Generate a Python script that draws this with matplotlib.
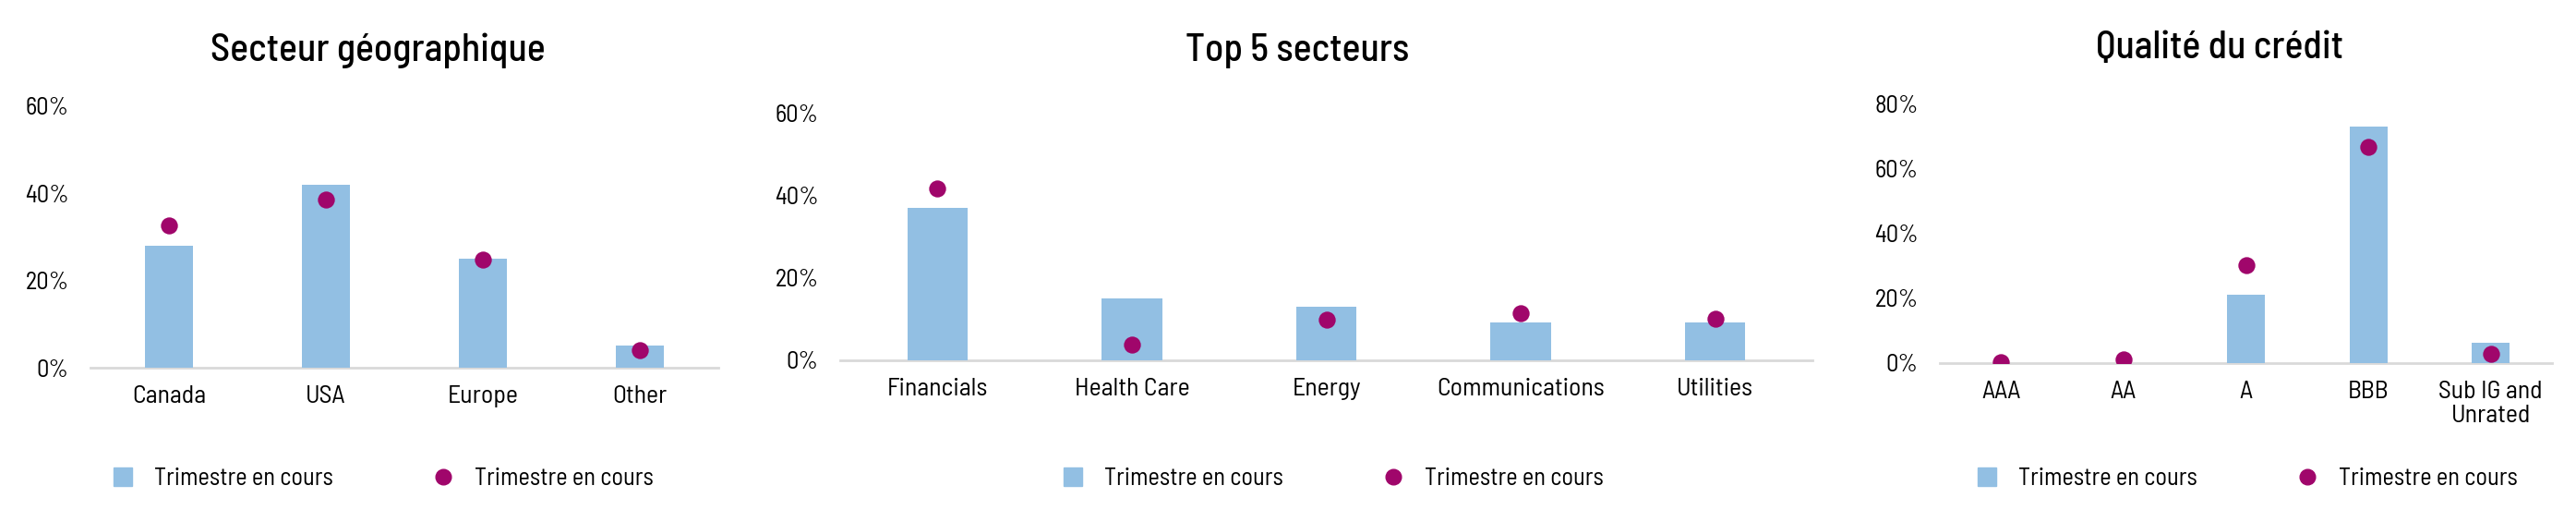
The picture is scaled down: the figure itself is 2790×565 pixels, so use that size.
import matplotlib
matplotlib.use("Agg")
import matplotlib.pyplot as plt
from matplotlib.lines import Line2D
from matplotlib.ticker import PercentFormatter

plt.rcParams['font.family'] = ['Barlow Semi Condensed', 'DejaVu Sans']

BAR_COLOR = "#92BFE3"
DOT_COLOR = "#A0066B"
AXIS_COLOR = "#D9D9D9"
LEGEND_LABEL = "Trimestre en cours"

# Secteur géographique
geo_titles = "Secteur géographique"
geo_cats = ["Canada", "USA", "Europe", "Other"]
geo_bars = [28, 42, 25, 5]
geo_dots = [32.6, 38.5, 24.8, 4.0]
geo_yticks = [0, 20, 40, 60]

# Top 5 secteurs
sect_title = "Top 5 secteurs"
sect_cats = ["Financials", "Health Care", "Energy", "Communications", "Utilities"]
sect_bars = [37, 15, 13, 9, 9]
sect_dots = [41.7, 3.7, 9.8, 11.3, 10.0]
sect_yticks = [0, 20, 40, 60]

# Qualité du crédit
cred_title = "Qualité du crédit"
cred_cats = ["AAA", "AA", "A", "BBB", "Sub IG and\nUnrated"]
cred_bars = [0, 0, 21, 73, 6.2]
cred_dots = [0.3, 1.0, 30.2, 66.7, 2.9]
cred_yticks = [0, 20, 40, 60, 80]

W, H = 2790, 565


def px_axes(fig, x0, x1, y_zero, y_top):
    # pixel box -> figure fraction
    return fig.add_axes([x0 / W, 1 - y_zero / H, (x1 - x0) / W, (y_zero - y_top) / H])


def draw_panel(fig, box, title, title_xy, cats, bars, dots, yticks, legend_xy):
    ax = px_axes(fig, *box)
    xs = range(len(cats))
    ax.bar(xs, bars, width=0.31, color=BAR_COLOR, zorder=2)
    ax.scatter(xs, dots, s=175, color=DOT_COLOR, zorder=3, linewidths=0)
    ax.set_xlim(-0.5, len(cats) - 0.5)
    ax.set_ylim(0, yticks[-1])
    ax.set_yticks(yticks)
    ax.yaxis.set_major_formatter(PercentFormatter(decimals=0))
    ax.set_xticks(list(xs))
    ax.set_xticklabels(cats, linespacing=1.1)
    ax.tick_params(axis='both', length=0)
    ax.tick_params(axis='y', pad=17, labelsize=19)
    ax.tick_params(axis='x', pad=14, labelsize=20)
    for side in ['top', 'right', 'left']:
        ax.spines[side].set_visible(False)
    ax.spines['bottom'].set_color(AXIS_COLOR)
    ax.spines['bottom'].set_linewidth(2)
    ax.spines['bottom'].set_zorder(1)

    fig.text(title_xy[0] / W, 1 - title_xy[1] / H, title, fontsize=30,
             fontweight='medium', ha='center', va='center')

    handles = [
        Line2D([], [], linestyle='none', marker='s', markersize=15, color=BAR_COLOR),
        Line2D([], [], linestyle='none', marker='o', markersize=12, color=DOT_COLOR),
    ]
    fig.legend(handles, [LEGEND_LABEL, LEGEND_LABEL], loc='center',
               bbox_to_anchor=(legend_xy[0] / W, 1 - legend_xy[1] / H),
               ncol=2, frameon=False, fontsize=19, handlelength=1.0,
               handletextpad=0.8, columnspacing=4.0)
    return ax


fig = plt.figure(figsize=(W / 100, H / 100), dpi=100)

draw_panel(fig, (98, 778, 398, 115), geo_titles, (409, 55),
           geo_cats, geo_bars, geo_dots, geo_yticks, (414, 518))
draw_panel(fig, (910, 1963, 389.5, 122), sect_title, (1405, 55),
           sect_cats, sect_bars, sect_dots, sect_yticks, (1443, 518))
draw_panel(fig, (2101, 2764, 393, 112), cred_title, (2404, 52),
           cred_cats, cred_bars, cred_dots, cred_yticks, (2433, 518))

fig.savefig("out.png", dpi=100)
